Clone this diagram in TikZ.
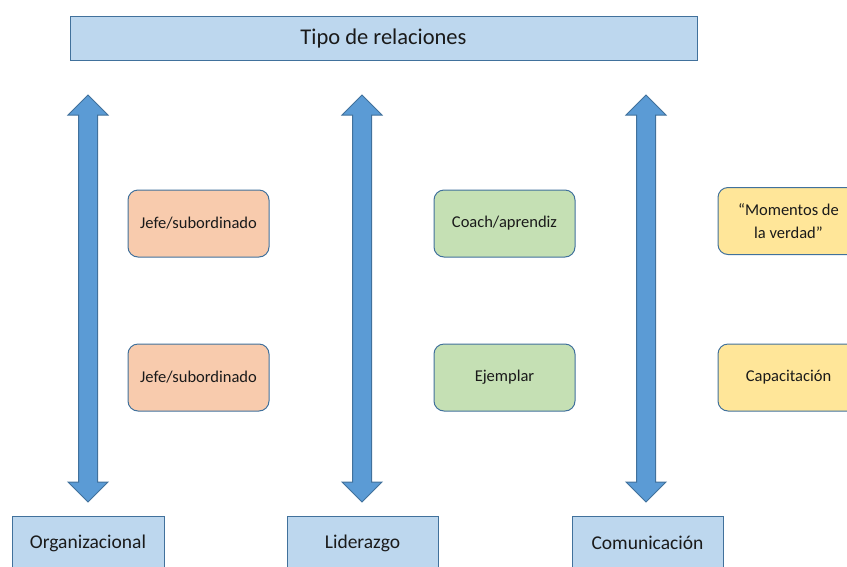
\documentclass[tikz,border=0pt]{standalone}
\usepackage{fontspec}
\setmainfont{Carlito}
\definecolor{hdrfill}{HTML}{BDD7EE}
\definecolor{hdrline}{HTML}{41719C}
\definecolor{arrfill}{HTML}{5B9BD5}
\definecolor{orgfill}{HTML}{F8CBAD}
\definecolor{leadfill}{HTML}{C5E0B4}
\definecolor{comfill}{HTML}{FFE699}
\definecolor{txt}{HTML}{1A1A1A}
\tikzset{
  x=1pt, y=-1pt,
  headbox/.style={draw=hdrline, fill=hdrfill, line width=1pt, inner sep=0pt,
    text=txt, font=\fontsize{22.5}{26}\selectfont},
  basebox/.style={draw=hdrline, fill=hdrfill, line width=1pt, inner sep=0pt,
    minimum height=54pt, text=txt, font=\fontsize{19.5}{23}\selectfont},
  kindbox/.style={draw=hdrline, line width=1pt, rounded corners=10pt, inner sep=0pt,
    minimum width=141pt, minimum height=67pt, align=center, text=txt,
    font=\fontsize{16.5}{23}\selectfont},
  axisarrow/.style={draw=hdrline, fill=arrfill, line width=1pt, line join=miter},
}
% vertical double-headed block arrow centred at #1 from #2 (top tip) to #3 (bottom tip)
\newcommand{\blockarrow}[3]{%
  \filldraw[axisarrow]
    (#1,#2) -- (#1+20,#2+20) -- (#1+9.5,#2+20) -- (#1+9.5,#3-20) -- (#1+20,#3-20)
    -- (#1,#3) -- (#1-20,#3-20) -- (#1-9.5,#3-20) -- (#1-9.5,#2+20) -- (#1-20,#2+20) -- cycle;}
\begin{document}
\begin{tikzpicture}
\useasboundingbox (0,0) rectangle (847,566);
\begin{scope}
\clip (0,0) rectangle (847,566);

% title bar
\node[headbox, minimum width=627pt, minimum height=44pt] (title) at (383.5,38) {Tipo de relaciones};

% axes
\blockarrow{88}{95}{502}
\blockarrow{362}{95}{502}
\blockarrow{646}{95}{502}

% relation kinds
\node[kindbox, fill=orgfill] (org1) at (198.5,223.5) {Jefe/subordinado};
\node[kindbox, fill=orgfill] (org2) at (198.5,377.5) {Jefe/subordinado};
\node[kindbox, fill=leadfill] (lead1) at (504.5,223.5) {Coach/aprendiz};
\node[kindbox, fill=leadfill] (lead2) at (504.5,377.5) {Ejemplar};
\node[kindbox, fill=comfill] (com1) at (788.5,221) {“Momentos de\\la verdad”};
\node[kindbox, fill=comfill] (com2) at (788.5,377.5) {Capacitación};

% base categories
\node[basebox, minimum width=152pt] (organizacional) at (88,543) {Organizacional};
\node[basebox, minimum width=151pt] (liderazgo) at (362.5,543) {Liderazgo};
\node[basebox, minimum width=151pt] (comunicacion) at (647.5,543) {Comunicación};
\end{scope}
\end{tikzpicture}
\end{document}
